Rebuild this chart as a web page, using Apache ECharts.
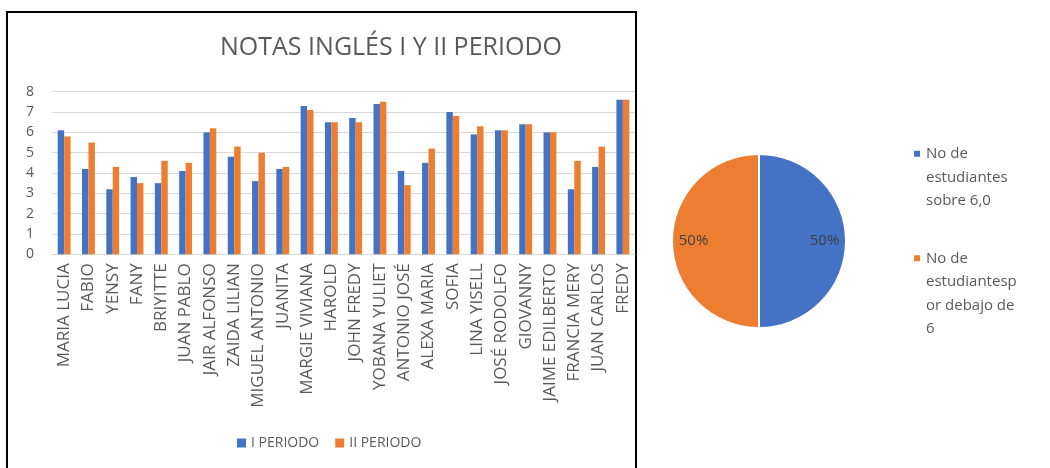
<!DOCTYPE html>
<html lang="es">
<head>
    <meta charset="UTF-8">
    <script src="https://cdn.jsdelivr.net/npm/echarts@6/dist/echarts.min.js"></script>
    <style>
        body { margin: 0; background: #fff; }
        #chart { width: 1050px; height: 468px; }
    </style>
</head>
<body>
    <div id="chart"></div>
    <script>
        // datos
        const students = ['MARIA LUCIA', 'FABIO', 'YENSY', 'FANY', 'BRIYITTE', 'JUAN PABLO', 'JAIR ALFONSO',
            'ZAIDA LILIAN', 'MIGUEL ANTONIO', 'JUANITA', 'MARGIE VIVIANA', 'HAROLD', 'JOHN FREDY',
            'YOBANA YULIET', 'ANTONIO JOSÉ', 'ALEXA MARIA', 'SOFIA', 'LINA YISELL', 'JOSÉ RODOLFO',
            'GIOVANNY', 'JAIME EDILBERTO', 'FRANCIA MERY', 'JUAN CARLOS', 'FREDY'];
        const periodo1 = [6.1, 4.2, 3.2, 3.8, 3.5, 4.1, 6.0, 4.8, 3.6, 4.2, 7.3, 6.5, 6.7, 7.4, 4.1, 4.5, 7.0, 5.9, 6.1, 6.4, 6.0, 3.2, 4.3, 7.6];
        const periodo2 = [5.8, 5.5, 4.3, 3.5, 4.6, 4.5, 6.2, 5.3, 5.0, 4.3, 7.1, 6.5, 6.5, 7.5, 3.4, 5.2, 6.8, 6.3, 6.1, 6.4, 6.0, 4.6, 5.3, 7.6];
        const seriesNames = ['I PERIODO', 'II PERIODO'];
        const pieNames = ['No de\nestudiantes\nsobre 6,0', 'No de\nestudiantesp\nor debajo de\n6'];
        const pieValues = [12, 12];

        const BLUE = '#4472C4';
        const ORANGE = '#ED7D31';
        const TXT = '#595959';
        const FONT = 'Open Sans';

        const myChart = echarts.init(document.getElementById('chart'));

        const pieData = pieNames.map((n, i) => ({ name: n, value: pieValues[i] }));

        // leyenda del pastel: el cuadrito queda a la altura de la primera linea
        function pieLegend(name, top) {
            const lines = name.split('\n').length;
            return {
                data: [name],
                orient: 'vertical',
                left: 907, top: top,
                itemWidth: 8, itemHeight: 8,
                icon: 'rect',
                formatter: n => '\n'.repeat(lines - 1) + n,
                textStyle: { color: TXT, fontSize: 15, lineHeight: 23.5, fontFamily: FONT }
            };
        }

        const option = {
            animation: false,
            color: [BLUE, ORANGE],
            textStyle: { fontFamily: FONT },
            graphic: [
                {
                    type: 'rect',
                    shape: { x: 7, y: 12, width: 629, height: 480 },
                    style: { fill: 'none', stroke: '#000', lineWidth: 2 }
                },
                {
                    type: 'text',
                    x: 391, y: 48,
                    style: {
                        text: 'NOTAS INGLÉS I Y II PERIODO',
                        align: 'center', verticalAlign: 'middle',
                        font: '25px "Open Sans"', fill: TXT
                    }
                }
            ],
            legend: [
                {
                    data: seriesNames,
                    left: 232, top: 431,
                    itemWidth: 9, itemHeight: 9, itemGap: 16,
                    icon: 'rect',
                    textStyle: { color: TXT, fontSize: 14, fontFamily: FONT }
                },
                pieLegend(pieNames[0], 90),
                pieLegend(pieNames[1], 171)
            ],
            grid: { left: 52, right: 415, top: 91.7, bottom: 213.7 },
            xAxis: {
                type: 'category',
                data: students,
                axisLine: { lineStyle: { color: '#d9d9d9' } },
                axisTick: { show: false },
                axisLabel: { rotate: 90, interval: 0, margin: 9, color: TXT, fontSize: 17, fontFamily: FONT }
            },
            yAxis: {
                type: 'value',
                min: 0, max: 8, interval: 1,
                axisLine: { show: false },
                axisTick: { show: false },
                axisLabel: { color: TXT, fontSize: 14, margin: 18, fontFamily: FONT },
                splitLine: { lineStyle: { color: '#d9d9d9' } }
            },
            series: [
                {
                    name: seriesNames[0], type: 'bar', data: periodo1,
                    barGap: '0%', barCategoryGap: '47%',
                    itemStyle: { color: BLUE }
                },
                {
                    name: seriesNames[1], type: 'bar', data: periodo2,
                    itemStyle: { color: ORANGE }
                },
                {
                    type: 'pie',
                    center: [759, 241],
                    radius: [0, 87],
                    startAngle: 90,
                    data: pieData,
                    label: { show: false },
                    labelLine: { show: false },
                    itemStyle: { borderColor: '#fff', borderWidth: 2 }
                },
                {
                    // solo etiquetas, mas hacia afuera
                    type: 'pie',
                    center: [759, 241],
                    radius: [38, 87],
                    startAngle: 90,
                    silent: true,
                    data: pieData,
                    itemStyle: { color: 'rgba(0,0,0,0)' },
                    label: {
                        position: 'inside',
                        formatter: '{d}%',
                        color: '#404040', fontSize: 15, fontFamily: FONT
                    },
                    labelLine: { show: false }
                }
            ]
        };

        myChart.setOption(option);
    </script>
</body>
</html>
